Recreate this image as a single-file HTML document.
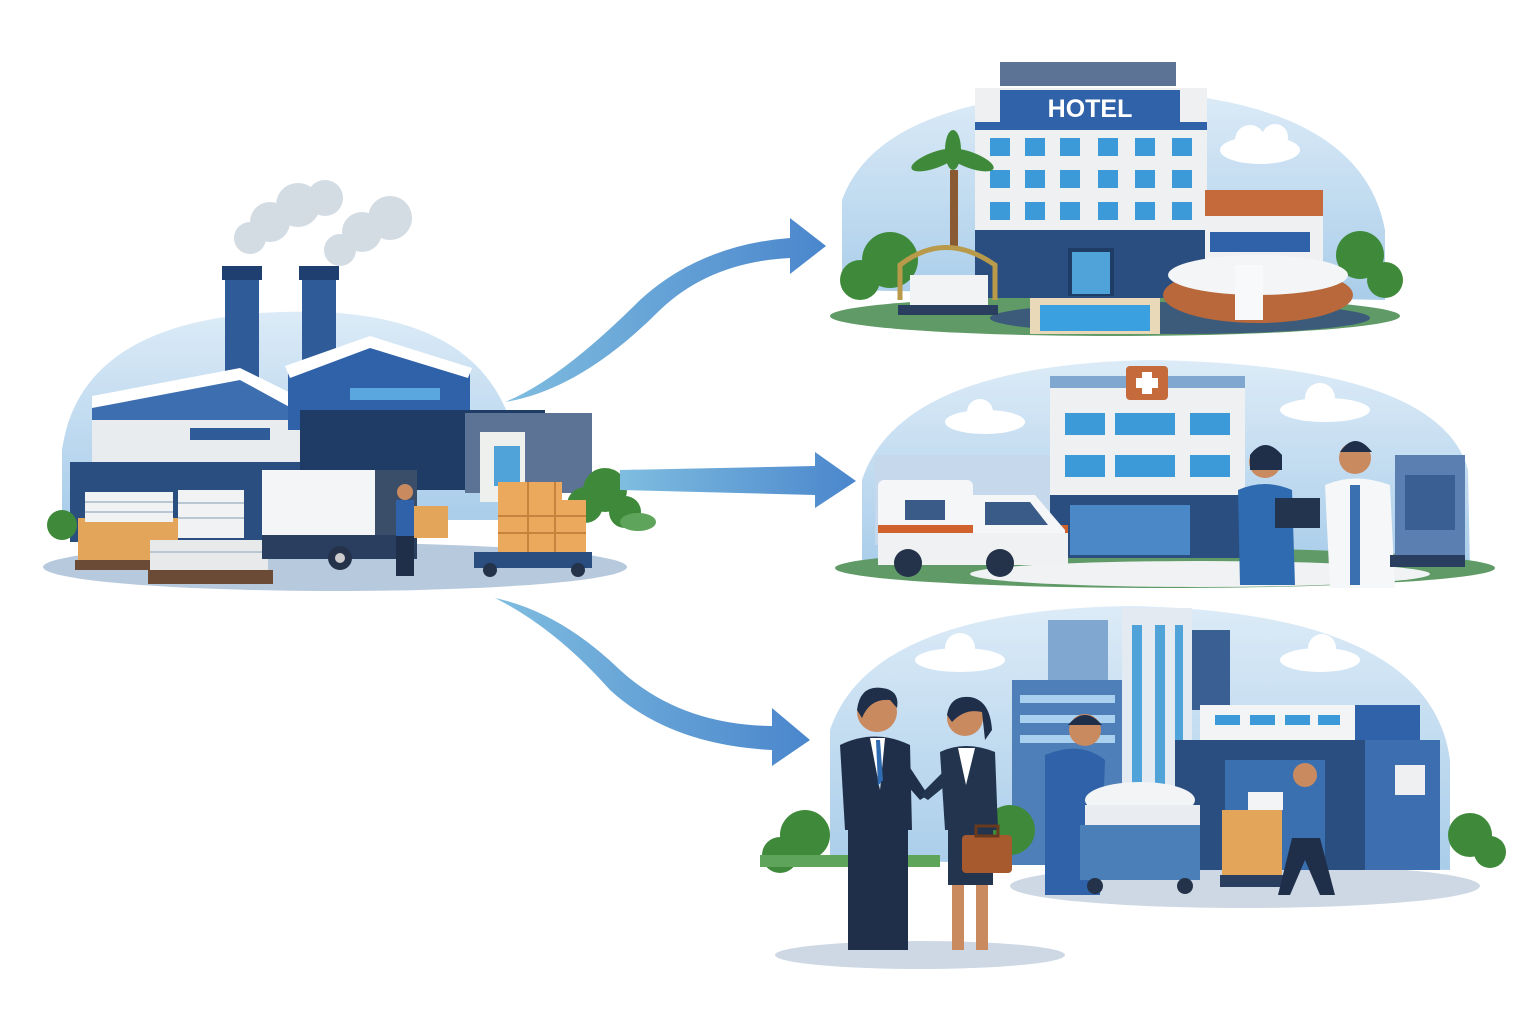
<!DOCTYPE html>
<html><head><meta charset="utf-8"><style>
html,body{margin:0;padding:0;background:#fff;}
svg{display:block}
</style></head><body>
<svg width="1536" height="1024" viewBox="0 0 1536 1024" xmlns="http://www.w3.org/2000/svg" font-family="Liberation Sans, sans-serif">
<defs>
<linearGradient id="ar" x1="0" x2="1" y1="0" y2="0"><stop offset="0" stop-color="#7fbde0"/><stop offset="1" stop-color="#4a86cc"/></linearGradient>
<linearGradient id="sky" x1="0" x2="0" y1="0" y2="1"><stop offset="0" stop-color="#dcebf7"/><stop offset="1" stop-color="#a9cdea"/></linearGradient>
</defs>

<!-- ===== Factory scene ===== -->
<path d="M62 520 L62 450 Q80 320 280 312 Q470 305 510 420 L520 520 Z" fill="url(#sky)"/>
<ellipse cx="335" cy="567" rx="292" ry="24" fill="#b7c9dc"/>
<!-- smoke -->
<g fill="#d3dbe3"><circle cx="250" cy="238" r="16"/><circle cx="270" cy="222" r="20"/><circle cx="298" cy="205" r="22"/><circle cx="325" cy="198" r="18"/><circle cx="340" cy="250" r="16"/><circle cx="362" cy="232" r="20"/><circle cx="390" cy="218" r="22"/></g>
<!-- chimneys -->
<rect x="225" y="268" width="34" height="115" fill="#2f5b98"/><rect x="222" y="266" width="40" height="14" fill="#1f3f70"/>
<rect x="302" y="268" width="34" height="100" fill="#2f5b98"/><rect x="299" y="266" width="40" height="14" fill="#1f3f70"/>
<!-- buildings -->
<polygon points="92,400 240,372 300,405 300,470 92,470" fill="#3d6eb0"/>
<polygon points="92,396 240,368 305,400 295,410 240,380 92,408" fill="#ffffff"/>
<rect x="92" y="420" width="210" height="60" fill="#e9ecef"/>
<rect x="190" y="428" width="80" height="12" fill="#2f5b98"/>
<polygon points="288,370 370,340 470,372 470,430 288,430" fill="#2f62a8"/>
<polygon points="285,366 370,336 472,368 468,378 370,348 290,378" fill="#ffffff"/>
<rect x="350" y="388" width="90" height="12" fill="#5aa6df"/>
<rect x="300" y="410" width="245" height="80" fill="#1f3c66"/>
<rect x="465" y="413" width="127" height="80" fill="#5d7396"/>
<rect x="480" y="432" width="45" height="70" fill="#eef0ee"/><rect x="494" y="446" width="26" height="40" fill="#4fa3d9"/>
<rect x="70" y="462" width="230" height="80" fill="#2a4e80"/>
<!-- bush -->
<g fill="#3f8a3a"><circle cx="605" cy="490" r="22"/><circle cx="585" cy="505" r="18"/><circle cx="625" cy="512" r="16"/></g>
<ellipse cx="638" cy="522" rx="18" ry="9" fill="#5ea45a"/>
<g fill="#3f8a3a"><circle cx="62" cy="525" r="15"/></g>
<!-- pallets / linen stacks -->
<rect x="78" y="518" width="100" height="45" fill="#e3a55a"/><rect x="75" y="560" width="105" height="10" fill="#6b4b35"/>
<rect x="150" y="540" width="118" height="30" fill="#e8e9ea"/><rect x="148" y="570" width="125" height="14" fill="#6b4b35"/>
<rect x="85" y="492" width="88" height="30" fill="#f1f2f3"/><rect x="178" y="490" width="66" height="48" fill="#f1f2f3"/>
<g stroke="#b9c6d4" stroke-width="2"><line x1="85" y1="502" x2="173" y2="502"/><line x1="85" y1="512" x2="173" y2="512"/><line x1="178" y1="503" x2="244" y2="503"/><line x1="178" y1="518" x2="244" y2="518"/><line x1="150" y1="552" x2="268" y2="552"/></g>
<!-- truck -->
<rect x="262" y="470" width="118" height="68" fill="#f4f5f6"/>
<rect x="375" y="470" width="42" height="70" fill="#3a4e6a"/>
<rect x="262" y="535" width="155" height="24" fill="#2a3e60"/>
<circle cx="340" cy="558" r="12" fill="#24324a"/><circle cx="340" cy="558" r="5" fill="#ccc"/>
<!-- worker -->
<circle cx="405" cy="492" r="8" fill="#c98a60"/><rect x="396" y="500" width="18" height="36" fill="#2f62a8"/><rect x="396" y="536" width="18" height="40" fill="#1f2f4a"/>
<rect x="414" y="506" width="34" height="32" fill="#e3a55a"/>
<!-- boxes cart -->
<rect x="498" y="482" width="64" height="18" fill="#eaa95c"/>
<rect x="498" y="500" width="88" height="52" fill="#eaa95c"/>
<g stroke="#c7823d" stroke-width="2"><line x1="498" y1="516" x2="586" y2="516"/><line x1="498" y1="533" x2="586" y2="533"/><line x1="528" y1="482" x2="528" y2="552"/><line x1="555" y1="482" x2="555" y2="552"/></g>
<rect x="474" y="552" width="118" height="16" fill="#2a4e80"/>
<circle cx="490" cy="570" r="7" fill="#24324a"/><circle cx="578" cy="570" r="7" fill="#24324a"/>

<!-- ===== Arrows ===== -->
<path d="M505 402 Q560 380 640 300 Q700 245 790 238 L790 218 L826 246 L790 274 L790 258 Q710 262 660 310 Q580 390 505 402 Z" fill="url(#ar)"/>
<path d="M620 470 L815 466 L815 452 L856 481 L815 508 L815 495 L620 490 Z" fill="url(#ar)"/>
<path d="M495 598 Q560 612 620 670 Q680 725 772 726 L772 708 L810 740 L772 766 L772 750 Q670 745 610 690 Q555 628 495 598 Z" fill="url(#ar)"/>

<!-- ===== Hotel scene ===== -->
<path d="M842 290 L842 200 Q880 95 1110 90 Q1360 95 1385 230 L1385 300 Z" fill="url(#sky)"/>
<ellipse cx="1115" cy="316" rx="285" ry="20" fill="#5f9a67"/>
<ellipse cx="1180" cy="318" rx="190" ry="16" fill="#3c5a7a"/>
<g fill="#ffffff"><ellipse cx="1260" cy="150" rx="40" ry="14"/><circle cx="1250" cy="140" r="15"/><circle cx="1275" cy="137" r="13"/></g>
<rect x="1000" y="62" width="176" height="24" fill="#5d7396"/>
<rect x="975" y="88" width="232" height="210" fill="#eef0f2"/>
<rect x="1000" y="90" width="180" height="32" fill="#2f62a8"/>
<text x="1090" y="117" text-anchor="middle" font-size="25" font-weight="bold" fill="#fff">HOTEL</text>
<rect x="975" y="122" width="232" height="8" fill="#2f62a8"/>
<g fill="#3d9ad8">
<rect x="990" y="138" width="20" height="18"/><rect x="1025" y="138" width="20" height="18"/><rect x="1060" y="138" width="20" height="18"/><rect x="1098" y="138" width="20" height="18"/><rect x="1135" y="138" width="20" height="18"/><rect x="1172" y="138" width="20" height="18"/>
<rect x="990" y="170" width="20" height="18"/><rect x="1025" y="170" width="20" height="18"/><rect x="1060" y="170" width="20" height="18"/><rect x="1098" y="170" width="20" height="18"/><rect x="1135" y="170" width="20" height="18"/><rect x="1172" y="170" width="20" height="18"/>
<rect x="990" y="202" width="20" height="18"/><rect x="1025" y="202" width="20" height="18"/><rect x="1060" y="202" width="20" height="18"/><rect x="1098" y="202" width="20" height="18"/><rect x="1135" y="202" width="20" height="18"/><rect x="1172" y="202" width="20" height="18"/>
</g>
<rect x="975" y="230" width="232" height="68" fill="#2a4e80"/>
<rect x="1068" y="248" width="46" height="48" fill="#1f3c66"/><rect x="1072" y="252" width="38" height="42" fill="#4fa3d9"/>
<rect x="1205" y="190" width="118" height="26" fill="#c56a3a"/>
<rect x="1205" y="216" width="118" height="70" fill="#eef0f2"/><rect x="1210" y="232" width="100" height="20" fill="#2f62a8"/>
<rect x="1030" y="298" width="130" height="36" fill="#e9d9b8"/><rect x="1040" y="305" width="110" height="26" fill="#3aa0e0"/>
<!-- palm -->
<rect x="950" y="170" width="8" height="80" fill="#8a5a32"/>
<g fill="#3f8a3a"><ellipse cx="935" cy="160" rx="25" ry="8" transform="rotate(-20 935 160)"/><ellipse cx="970" cy="160" rx="25" ry="8" transform="rotate(20 970 160)"/><ellipse cx="953" cy="150" rx="8" ry="20"/></g>
<g fill="#3f8a3a"><circle cx="890" cy="260" r="28"/><circle cx="860" cy="280" r="20"/><circle cx="1360" cy="255" r="24"/><circle cx="1385" cy="280" r="18"/></g>
<!-- luggage cart -->
<path d="M900 300 L900 265 Q945 230 995 265 L995 300" fill="none" stroke="#b89a4a" stroke-width="5"/>
<rect x="910" y="275" width="78" height="30" fill="#f2f3f4"/>
<rect x="898" y="305" width="100" height="10" fill="#2a3e60"/>
<!-- bed/sheets -->
<ellipse cx="1258" cy="295" rx="95" ry="28" fill="#b8683a"/>
<ellipse cx="1258" cy="275" rx="90" ry="20" fill="#f3f5f7"/>
<rect x="1235" y="265" width="28" height="55" fill="#f8f9fa"/>

<!-- ===== Hospital scene ===== -->
<path d="M862 560 L862 480 Q900 365 1150 360 Q1440 365 1468 470 L1470 570 Z" fill="url(#sky)"/>
<ellipse cx="1165" cy="568" rx="330" ry="20" fill="#5f9a67"/>
<ellipse cx="1200" cy="574" rx="230" ry="13" fill="#f0f2f4"/>
<g fill="#ffffff"><ellipse cx="985" cy="422" rx="40" ry="12"/><circle cx="980" cy="412" r="13"/><ellipse cx="1325" cy="410" rx="45" ry="12"/><circle cx="1320" cy="398" r="15"/></g>
<rect x="1050" y="378" width="195" height="180" fill="#eef0f2"/>
<rect x="1050" y="376" width="195" height="12" fill="#7fa7d0"/>
<rect x="1126" y="366" width="42" height="34" rx="4" fill="#c56a3a"/>
<rect x="1142" y="372" width="10" height="22" fill="#fff"/><rect x="1136" y="378" width="22" height="10" fill="#fff"/>
<g fill="#3d9ad8">
<rect x="1065" y="413" width="40" height="22"/><rect x="1115" y="413" width="60" height="22"/><rect x="1190" y="413" width="40" height="22"/>
<rect x="1065" y="455" width="40" height="22"/><rect x="1115" y="455" width="60" height="22"/><rect x="1190" y="455" width="40" height="22"/>
</g>
<rect x="1050" y="495" width="195" height="63" fill="#2a4e80"/>
<rect x="1070" y="505" width="120" height="50" fill="#4a88c8"/>
<rect x="875" y="455" width="175" height="90" fill="#c6d8ec"/>
<!-- ambulance -->
<rect x="878" y="480" width="95" height="70" rx="6" fill="#f5f6f7"/>
<rect x="905" y="500" width="40" height="20" fill="#3a5a88"/>
<rect x="878" y="525" width="190" height="8" fill="#d0622e"/>
<path d="M973 495 L1035 495 L1065 530 L1065 565 L973 565 Z" fill="#f5f6f7"/>
<path d="M985 502 L1030 502 L1048 525 L985 525 Z" fill="#3a5a88"/>
<rect x="878" y="533" width="190" height="32" fill="#f0f1f2"/>
<circle cx="908" cy="563" r="14" fill="#24324a"/><circle cx="1000" cy="563" r="14" fill="#24324a"/>
<!-- nurse & doctor -->
<circle cx="1265" cy="462" r="16" fill="#c98a60"/><path d="M1250 455 Q1265 435 1282 455 L1282 470 L1250 470 Z" fill="#1f2f4a"/>
<path d="M1238 490 Q1265 478 1292 490 L1295 585 L1240 585 Z" fill="#2f6bb0"/>
<rect x="1275" y="498" width="45" height="30" fill="#22344e"/>
<circle cx="1355" cy="458" r="16" fill="#c98a60"/><path d="M1340 452 Q1355 430 1372 452 Z" fill="#1f2f4a"/>
<path d="M1325 485 Q1355 472 1390 485 L1395 588 L1330 588 Z" fill="#f5f7f9"/>
<rect x="1350" y="485" width="10" height="100" fill="#3a6fb0"/>
<rect x="1395" y="455" width="70" height="110" fill="#5a7fb0"/><rect x="1405" y="475" width="50" height="55" fill="#3a5f92"/>
<rect x="1390" y="555" width="75" height="12" fill="#2a3e60"/>

<!-- ===== Business scene ===== -->
<path d="M830 860 L830 730 Q870 610 1130 606 Q1430 612 1450 760 L1450 870 Z" fill="url(#sky)"/>
<ellipse cx="1245" cy="886" rx="235" ry="22" fill="#cdd8e4"/>
<ellipse cx="920" cy="955" rx="145" ry="14" fill="#cdd8e4"/>
<g fill="#ffffff"><ellipse cx="960" cy="660" rx="45" ry="12"/><circle cx="960" cy="648" r="15"/><ellipse cx="1320" cy="660" rx="40" ry="12"/><circle cx="1322" cy="648" r="14"/></g>
<rect x="1048" y="620" width="60" height="110" fill="#7fa7d0"/>
<rect x="1012" y="680" width="110" height="185" fill="#4e7fb8"/>
<g fill="#a9d0ee"><rect x="1020" y="695" width="95" height="8"/><rect x="1020" y="715" width="95" height="8"/><rect x="1020" y="735" width="95" height="8"/></g>
<rect x="1122" y="608" width="70" height="260" fill="#e3eaf2"/>
<g fill="#4fa3d9"><rect x="1132" y="625" width="10" height="230"/><rect x="1155" y="625" width="10" height="230"/><rect x="1175" y="625" width="8" height="230"/></g>
<rect x="1192" y="630" width="38" height="80" fill="#3a5f92"/>
<rect x="1200" y="705" width="160" height="40" fill="#f2f4f6"/>
<g fill="#3d9ad8"><rect x="1215" y="715" width="25" height="10"/><rect x="1250" y="715" width="25" height="10"/><rect x="1285" y="715" width="25" height="10"/><rect x="1318" y="715" width="22" height="10"/></g>
<rect x="1355" y="705" width="65" height="165" fill="#2f62a8"/>
<rect x="1360" y="740" width="80" height="130" fill="#3d6eb0"/><rect x="1395" y="765" width="30" height="30" fill="#eef0f2"/>
<rect x="1175" y="740" width="190" height="130" fill="#2a4e80"/>
<rect x="1225" y="760" width="100" height="110" fill="#3a6fb0"/>
<g fill="#3f8a3a"><circle cx="805" cy="835" r="25"/><circle cx="780" cy="855" r="18"/><circle cx="1010" cy="830" r="25"/><circle cx="1470" cy="835" r="22"/><circle cx="1490" cy="852" r="16"/></g>
<rect x="760" y="855" width="180" height="12" fill="#5ea45a"/>
<!-- worker with linen cart -->
<circle cx="1085" cy="730" r="16" fill="#c98a60"/><path d="M1068 725 Q1085 705 1102 725 Z" fill="#1f2f4a"/>
<path d="M1045 755 Q1080 740 1105 760 L1100 895 L1045 895 Z" fill="#2f62a8"/>
<ellipse cx="1140" cy="800" rx="55" ry="18" fill="#f2f4f6"/>
<rect x="1085" y="805" width="115" height="20" fill="#e9edf1"/>
<rect x="1080" y="825" width="120" height="55" fill="#4a7fb8"/>
<circle cx="1095" cy="886" r="8" fill="#24324a"/><circle cx="1185" cy="886" r="8" fill="#24324a"/>
<!-- worker with boxes -->
<rect x="1222" y="810" width="60" height="65" fill="#e3a55a"/>
<rect x="1248" y="792" width="35" height="18" fill="#f2f4f6"/>
<rect x="1220" y="875" width="70" height="12" fill="#2a3e60"/>
<circle cx="1305" cy="775" r="12" fill="#c98a60"/>
<rect x="1292" y="788" width="28" height="50" fill="#3a6fb0"/>
<path d="M1292 838 L1320 838 L1335 895 L1320 895 L1305 860 L1290 895 L1278 895 Z" fill="#1f2f4a"/>
<!-- businessman -->
<circle cx="877" cy="712" r="20" fill="#c98a60"/><path d="M857 710 Q860 685 882 688 Q900 690 897 708 L890 700 Q870 698 862 718 Z" fill="#1f2f4a"/>
<path d="M840 745 Q875 728 910 745 L912 830 L845 830 Z" fill="#1f2f4a"/>
<polygon points="870,738 885,738 880,790" fill="#fff"/><polygon points="876,740 880,740 883,780 878,786" fill="#2f6bb0"/>
<path d="M905 760 L928 795 L920 800 L898 775 Z" fill="#1f2f4a"/>
<rect x="848" y="828" width="60" height="122" fill="#1f2f4a"/>
<!-- businesswoman -->
<circle cx="965" cy="718" r="18" fill="#c98a60"/><path d="M947 715 Q950 695 970 697 Q990 700 992 730 L985 740 L982 712 Q965 708 952 722 Z" fill="#1f2f4a"/>
<path d="M940 752 Q965 740 995 752 L998 830 L945 830 Z" fill="#22344e"/>
<polygon points="958,748 975,748 966,785" fill="#fff"/>
<path d="M945 770 L920 795 L928 800 L950 782 Z" fill="#22344e"/>
<rect x="948" y="830" width="45" height="55" fill="#22344e"/>
<rect x="952" y="885" width="12" height="65" fill="#c98a60"/><rect x="976" y="885" width="12" height="65" fill="#c98a60"/>
<rect x="962" y="835" width="50" height="38" rx="4" fill="#a65a2e"/><rect x="976" y="826" width="22" height="10" fill="none" stroke="#6a3a1e" stroke-width="3"/>
</svg>
</body></html>
